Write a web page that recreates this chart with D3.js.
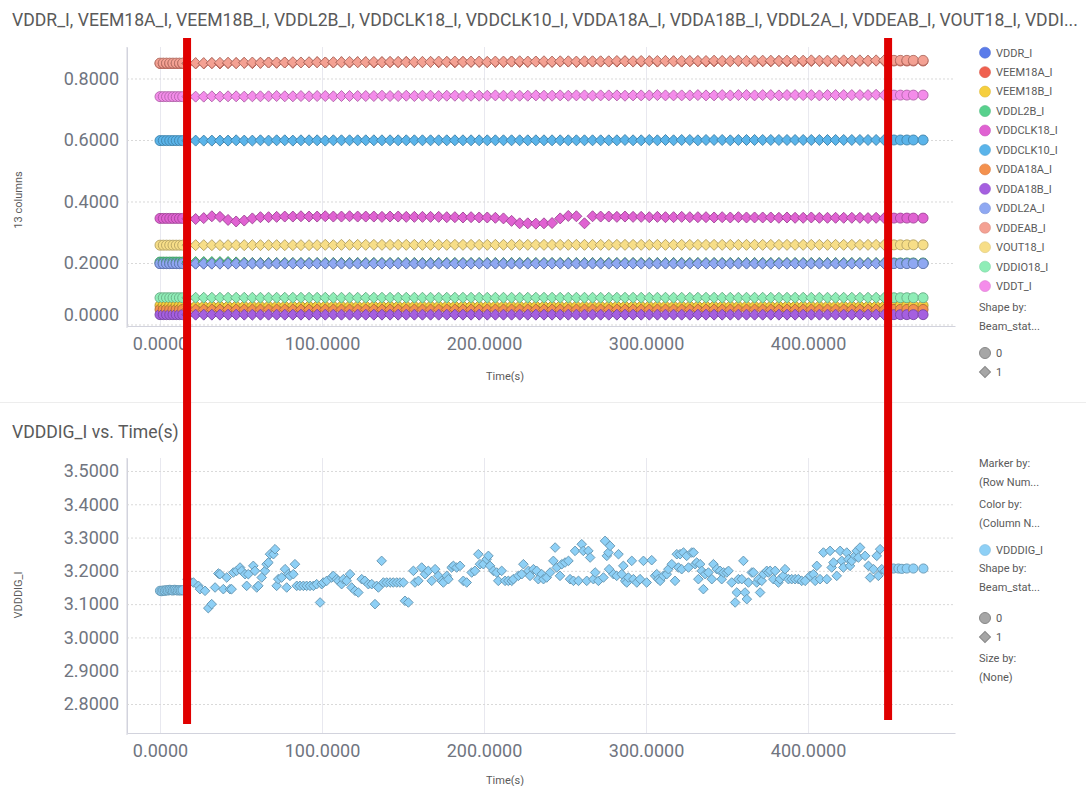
<!DOCTYPE html>
<html>
<head>
<meta charset="utf-8">
<script src="https://cdn.jsdelivr.net/npm/d3@7"></script>
<style>
  html, body { margin: 0; padding: 0; background: #fff; }
  svg { display: block; font-family: Roboto, "Noto Sans", sans-serif; }
</style>
</head>
<body>
<svg id="chart" width="1086" height="786"></svg>
<script>
// ---------------------------------------------------------------------------
// Data
// ---------------------------------------------------------------------------
const seriesNames = ["VDDR_I", "VEEM18A_I", "VEEM18B_I", "VDDL2B_I", "VDDCLK18_I", "VDDCLK10_I",
  "VDDA18A_I", "VDDA18B_I", "VDDL2A_I", "VDDEAB_I", "VOUT18_I", "VDDIO18_I", "VDDT_I"];
const seriesColors = ["#5a7bea", "#f0604f", "#f6cf3e", "#58d18d", "#e062d2", "#5ab4ea",
  "#f4914e", "#a55fe0", "#8fa8f2", "#f4a193", "#f7de88", "#8fedb7", "#f48cea"];

const timeTicks = [0, 100, 200, 300, 400];
const topYTicks = [0, 0.2, 0.4, 0.6, 0.8];
const bottomYTicks = [2.8, 2.9, 3.0, 3.1, 3.2, 3.3, 3.4, 3.5];

// Beam switched on / off (s); beam state 1 inside this window, 0 outside
const beamOnWindow = [16.7, 449.4];

// Sample times (s) for the 13 supply currents
const topTime = [
  0, 2, 4, 6, 8, 10, 12, 14, 17, 22,
  27, 32, 37, 42, 47, 52, 57, 62, 67, 72,
  77, 82, 87, 92, 97, 102, 107, 112, 117, 122,
  127, 132, 137, 142, 147, 152, 157, 162, 167, 172,
  177, 182, 187, 192, 197, 202, 207, 212, 217, 222,
  227, 232, 237, 242, 247, 252, 257, 262, 267, 272,
  277, 282, 287, 292, 297, 302, 307, 312, 317, 322,
  327, 332, 337, 342, 347, 352, 357, 362, 367, 372,
  377, 382, 387, 392, 397, 402, 407, 412, 417, 422,
  427, 432, 437, 442, 447, 453, 457, 461, 465, 471
];

const VDDR_I = [
  0.198, 0.198, 0.198, 0.198, 0.198, 0.198, 0.198, 0.198, 0.198, 0.198,
  0.198, 0.198, 0.198, 0.198, 0.199, 0.199, 0.199, 0.199, 0.199, 0.199,
  0.199, 0.199, 0.199, 0.199, 0.199, 0.199, 0.199, 0.199, 0.199, 0.199,
  0.199, 0.199, 0.199, 0.199, 0.199, 0.199, 0.199, 0.199, 0.199, 0.199,
  0.199, 0.199, 0.199, 0.199, 0.199, 0.199, 0.199, 0.199, 0.199, 0.199,
  0.199, 0.199, 0.199, 0.199, 0.199, 0.199, 0.199, 0.199, 0.199, 0.199,
  0.199, 0.199, 0.199, 0.199, 0.199, 0.199, 0.199, 0.199, 0.199, 0.199,
  0.199, 0.199, 0.199, 0.199, 0.199, 0.199, 0.199, 0.199, 0.199, 0.199,
  0.199, 0.199, 0.199, 0.199, 0.199, 0.199, 0.199, 0.199, 0.199, 0.199,
  0.199, 0.199, 0.199, 0.199, 0.199, 0.199, 0.199, 0.199, 0.199, 0.199
];
const VEEM18A_I = [
  0.849, 0.849, 0.849, 0.849, 0.849, 0.849, 0.849, 0.849, 0.849, 0.849,
  0.849, 0.850, 0.849, 0.850, 0.850, 0.851, 0.850, 0.851, 0.852, 0.851,
  0.852, 0.851, 0.852, 0.852, 0.853, 0.852, 0.852, 0.853, 0.852, 0.853,
  0.853, 0.852, 0.853, 0.853, 0.853, 0.854, 0.853, 0.853, 0.854, 0.853,
  0.854, 0.853, 0.854, 0.854, 0.854, 0.853, 0.854, 0.854, 0.855, 0.854,
  0.854, 0.855, 0.854, 0.854, 0.855, 0.855, 0.854, 0.855, 0.855, 0.855,
  0.855, 0.855, 0.856, 0.855, 0.855, 0.856, 0.855, 0.856, 0.856, 0.855,
  0.856, 0.856, 0.855, 0.856, 0.856, 0.856, 0.857, 0.856, 0.856, 0.856,
  0.856, 0.857, 0.856, 0.857, 0.856, 0.857, 0.857, 0.856, 0.857, 0.857,
  0.857, 0.857, 0.857, 0.858, 0.857, 0.857, 0.857, 0.857, 0.857, 0.857
];
const VEEM18B_I = [
  0.062, 0.062, 0.062, 0.062, 0.062, 0.062, 0.062, 0.062, 0.062, 0.062,
  0.062, 0.062, 0.062, 0.062, 0.062, 0.062, 0.062, 0.062, 0.062, 0.062,
  0.062, 0.062, 0.062, 0.062, 0.062, 0.062, 0.062, 0.062, 0.062, 0.062,
  0.062, 0.062, 0.062, 0.062, 0.062, 0.062, 0.062, 0.062, 0.062, 0.062,
  0.062, 0.062, 0.062, 0.062, 0.062, 0.062, 0.062, 0.062, 0.062, 0.062,
  0.062, 0.062, 0.062, 0.062, 0.062, 0.062, 0.062, 0.062, 0.062, 0.062,
  0.062, 0.062, 0.062, 0.062, 0.062, 0.062, 0.062, 0.062, 0.062, 0.062,
  0.062, 0.062, 0.062, 0.062, 0.062, 0.062, 0.062, 0.062, 0.062, 0.062,
  0.062, 0.062, 0.062, 0.062, 0.062, 0.062, 0.062, 0.062, 0.062, 0.062,
  0.062, 0.062, 0.062, 0.062, 0.062, 0.062, 0.062, 0.062, 0.062, 0.062
];
const VDDL2B_I = [
  0.203, 0.203, 0.203, 0.203, 0.203, 0.203, 0.203, 0.203, 0.203, 0.203,
  0.203, 0.203, 0.203, 0.203, 0.202, 0.201, 0.200, 0.200, 0.200, 0.200,
  0.200, 0.200, 0.200, 0.200, 0.200, 0.200, 0.200, 0.200, 0.200, 0.200,
  0.200, 0.200, 0.200, 0.200, 0.200, 0.200, 0.200, 0.200, 0.200, 0.200,
  0.200, 0.200, 0.200, 0.200, 0.200, 0.200, 0.200, 0.200, 0.200, 0.200,
  0.200, 0.200, 0.200, 0.200, 0.200, 0.200, 0.200, 0.200, 0.200, 0.200,
  0.200, 0.200, 0.200, 0.200, 0.200, 0.200, 0.200, 0.200, 0.200, 0.200,
  0.200, 0.200, 0.200, 0.200, 0.200, 0.200, 0.200, 0.200, 0.200, 0.200,
  0.200, 0.200, 0.200, 0.200, 0.200, 0.200, 0.200, 0.200, 0.200, 0.200,
  0.200, 0.200, 0.200, 0.200, 0.200, 0.200, 0.200, 0.200, 0.200, 0.200
];
const VDDCLK18_I = [
  0.345, 0.345, 0.345, 0.345, 0.345, 0.345, 0.345, 0.345, 0.344, 0.343,
  0.346, 0.352, 0.350, 0.340, 0.335, 0.338, 0.345, 0.349, 0.349, 0.350,
  0.351, 0.351, 0.352, 0.351, 0.351, 0.352, 0.351, 0.351, 0.352, 0.351,
  0.351, 0.351, 0.350, 0.351, 0.351, 0.350, 0.350, 0.350, 0.350, 0.350,
  0.349, 0.349, 0.348, 0.349, 0.348, 0.348, 0.347, 0.345, 0.337, 0.329,
  0.329, 0.328, 0.329, 0.330, 0.345, 0.353, 0.352, 0.329, 0.352, 0.351,
  0.351, 0.350, 0.351, 0.350, 0.350, 0.349, 0.350, 0.349, 0.349, 0.350,
  0.349, 0.349, 0.349, 0.348, 0.349, 0.348, 0.349, 0.348, 0.348, 0.348,
  0.348, 0.347, 0.348, 0.347, 0.347, 0.348, 0.347, 0.347, 0.347, 0.347,
  0.347, 0.347, 0.346, 0.347, 0.346, 0.346, 0.346, 0.346, 0.346, 0.346
];
const VDDCLK10_I = [
  0.598, 0.598, 0.598, 0.598, 0.598, 0.598, 0.598, 0.598, 0.598, 0.598,
  0.598, 0.598, 0.598, 0.598, 0.599, 0.598, 0.598, 0.599, 0.598, 0.599,
  0.599, 0.598, 0.599, 0.599, 0.599, 0.598, 0.599, 0.599, 0.599, 0.599,
  0.599, 0.599, 0.599, 0.599, 0.599, 0.599, 0.599, 0.599, 0.599, 0.599,
  0.599, 0.599, 0.599, 0.599, 0.599, 0.599, 0.599, 0.599, 0.599, 0.599,
  0.599, 0.599, 0.599, 0.599, 0.599, 0.599, 0.599, 0.599, 0.599, 0.599,
  0.599, 0.599, 0.600, 0.599, 0.599, 0.600, 0.599, 0.600, 0.599, 0.600,
  0.600, 0.599, 0.600, 0.600, 0.600, 0.599, 0.600, 0.600, 0.600, 0.600,
  0.600, 0.600, 0.600, 0.600, 0.600, 0.600, 0.600, 0.600, 0.600, 0.600,
  0.600, 0.600, 0.600, 0.600, 0.600, 0.600, 0.600, 0.600, 0.600, 0.600
];
const VDDA18A_I = [
  0.049, 0.049, 0.049, 0.049, 0.049, 0.049, 0.049, 0.049, 0.049, 0.049,
  0.049, 0.049, 0.049, 0.049, 0.049, 0.049, 0.049, 0.049, 0.049, 0.049,
  0.049, 0.049, 0.049, 0.049, 0.049, 0.049, 0.049, 0.049, 0.049, 0.049,
  0.049, 0.049, 0.049, 0.049, 0.049, 0.049, 0.049, 0.049, 0.049, 0.049,
  0.049, 0.049, 0.049, 0.049, 0.049, 0.049, 0.049, 0.049, 0.049, 0.049,
  0.049, 0.049, 0.049, 0.049, 0.049, 0.049, 0.049, 0.049, 0.049, 0.049,
  0.049, 0.049, 0.049, 0.049, 0.049, 0.049, 0.049, 0.049, 0.049, 0.049,
  0.049, 0.049, 0.049, 0.049, 0.049, 0.049, 0.049, 0.049, 0.049, 0.049,
  0.049, 0.049, 0.049, 0.049, 0.049, 0.049, 0.049, 0.049, 0.049, 0.049,
  0.049, 0.049, 0.049, 0.049, 0.049, 0.049, 0.049, 0.049, 0.049, 0.049
];
const VDDA18B_I = [
  0.032, 0.032, 0.032, 0.032, 0.032, 0.032, 0.032, 0.032, 0.032, 0.032,
  0.032, 0.032, 0.032, 0.032, 0.032, 0.032, 0.032, 0.032, 0.032, 0.032,
  0.032, 0.032, 0.032, 0.032, 0.032, 0.032, 0.032, 0.032, 0.032, 0.032,
  0.032, 0.032, 0.032, 0.032, 0.032, 0.032, 0.032, 0.032, 0.032, 0.032,
  0.032, 0.032, 0.032, 0.032, 0.032, 0.032, 0.032, 0.032, 0.032, 0.032,
  0.032, 0.032, 0.032, 0.032, 0.032, 0.032, 0.032, 0.032, 0.032, 0.032,
  0.032, 0.032, 0.032, 0.032, 0.032, 0.032, 0.032, 0.032, 0.032, 0.032,
  0.032, 0.032, 0.032, 0.032, 0.032, 0.032, 0.032, 0.032, 0.032, 0.032,
  0.032, 0.032, 0.032, 0.032, 0.032, 0.032, 0.032, 0.032, 0.032, 0.032,
  0.032, 0.032, 0.032, 0.032, 0.032, 0.032, 0.032, 0.032, 0.032, 0.032
];
const VDDL2A_I = [
  0.198, 0.198, 0.198, 0.198, 0.198, 0.198, 0.198, 0.198, 0.198, 0.198,
  0.198, 0.198, 0.198, 0.198, 0.198, 0.198, 0.198, 0.198, 0.198, 0.198,
  0.198, 0.198, 0.198, 0.198, 0.198, 0.198, 0.198, 0.198, 0.198, 0.198,
  0.198, 0.198, 0.198, 0.198, 0.198, 0.198, 0.198, 0.198, 0.198, 0.198,
  0.198, 0.198, 0.198, 0.198, 0.198, 0.198, 0.198, 0.198, 0.198, 0.198,
  0.198, 0.198, 0.198, 0.198, 0.198, 0.198, 0.198, 0.198, 0.198, 0.198,
  0.198, 0.198, 0.198, 0.198, 0.198, 0.198, 0.198, 0.198, 0.198, 0.198,
  0.198, 0.198, 0.198, 0.198, 0.198, 0.198, 0.198, 0.198, 0.198, 0.198,
  0.198, 0.198, 0.198, 0.198, 0.198, 0.198, 0.198, 0.198, 0.198, 0.198,
  0.198, 0.198, 0.198, 0.198, 0.198, 0.198, 0.198, 0.198, 0.198, 0.198
];
const VDDEAB_I = [
  0.850, 0.850, 0.850, 0.850, 0.850, 0.850, 0.850, 0.850, 0.850, 0.850,
  0.850, 0.850, 0.851, 0.851, 0.850, 0.851, 0.852, 0.851, 0.852, 0.852,
  0.852, 0.853, 0.852, 0.853, 0.853, 0.852, 0.853, 0.853, 0.854, 0.853,
  0.853, 0.854, 0.853, 0.854, 0.854, 0.853, 0.854, 0.854, 0.854, 0.855,
  0.854, 0.855, 0.854, 0.855, 0.855, 0.854, 0.855, 0.855, 0.855, 0.856,
  0.855, 0.855, 0.856, 0.855, 0.856, 0.856, 0.855, 0.856, 0.856, 0.856,
  0.856, 0.857, 0.856, 0.856, 0.857, 0.856, 0.857, 0.857, 0.856, 0.857,
  0.857, 0.857, 0.857, 0.858, 0.857, 0.857, 0.858, 0.857, 0.858, 0.858,
  0.858, 0.857, 0.858, 0.858, 0.858, 0.859, 0.858, 0.858, 0.858, 0.859,
  0.858, 0.859, 0.858, 0.859, 0.859, 0.859, 0.859, 0.859, 0.859, 0.859
];
const VOUT18_I = [
  0.258, 0.258, 0.258, 0.258, 0.258, 0.258, 0.258, 0.258, 0.258, 0.258,
  0.258, 0.258, 0.258, 0.258, 0.258, 0.258, 0.258, 0.258, 0.258, 0.258,
  0.258, 0.258, 0.258, 0.258, 0.258, 0.259, 0.258, 0.259, 0.259, 0.259,
  0.259, 0.259, 0.259, 0.259, 0.259, 0.259, 0.259, 0.259, 0.259, 0.259,
  0.259, 0.259, 0.259, 0.259, 0.259, 0.259, 0.259, 0.259, 0.259, 0.259,
  0.259, 0.259, 0.259, 0.259, 0.259, 0.259, 0.259, 0.259, 0.259, 0.259,
  0.259, 0.259, 0.259, 0.259, 0.259, 0.259, 0.259, 0.259, 0.259, 0.259,
  0.259, 0.259, 0.259, 0.259, 0.259, 0.259, 0.259, 0.259, 0.259, 0.259,
  0.259, 0.259, 0.259, 0.259, 0.259, 0.259, 0.259, 0.259, 0.259, 0.259,
  0.259, 0.259, 0.259, 0.259, 0.259, 0.259, 0.259, 0.259, 0.259, 0.259
];
const VDDIO18_I = [
  0.087, 0.087, 0.087, 0.087, 0.087, 0.087, 0.087, 0.087, 0.087, 0.087,
  0.087, 0.087, 0.087, 0.087, 0.087, 0.087, 0.087, 0.087, 0.087, 0.087,
  0.087, 0.087, 0.087, 0.087, 0.087, 0.087, 0.087, 0.087, 0.087, 0.087,
  0.087, 0.087, 0.087, 0.087, 0.087, 0.087, 0.087, 0.087, 0.087, 0.087,
  0.087, 0.087, 0.087, 0.087, 0.087, 0.087, 0.087, 0.087, 0.087, 0.087,
  0.087, 0.087, 0.087, 0.087, 0.087, 0.087, 0.087, 0.087, 0.087, 0.087,
  0.087, 0.087, 0.087, 0.087, 0.087, 0.087, 0.087, 0.087, 0.087, 0.087,
  0.087, 0.087, 0.087, 0.087, 0.087, 0.087, 0.087, 0.087, 0.087, 0.087,
  0.087, 0.087, 0.087, 0.087, 0.087, 0.087, 0.087, 0.087, 0.087, 0.087,
  0.087, 0.087, 0.087, 0.087, 0.087, 0.087, 0.087, 0.087, 0.087, 0.087
];
const VDDT_I = [
  0.741, 0.741, 0.741, 0.741, 0.741, 0.741, 0.741, 0.741, 0.741, 0.741,
  0.741, 0.742, 0.741, 0.742, 0.742, 0.741, 0.742, 0.742, 0.742, 0.743,
  0.742, 0.742, 0.743, 0.742, 0.743, 0.743, 0.742, 0.743, 0.743, 0.743,
  0.743, 0.743, 0.744, 0.743, 0.743, 0.744, 0.743, 0.744, 0.744, 0.743,
  0.744, 0.744, 0.743, 0.744, 0.744, 0.744, 0.745, 0.744, 0.744, 0.744,
  0.744, 0.745, 0.744, 0.744, 0.745, 0.744, 0.745, 0.745, 0.744, 0.745,
  0.745, 0.745, 0.744, 0.745, 0.745, 0.745, 0.746, 0.745, 0.745, 0.745,
  0.745, 0.746, 0.745, 0.745, 0.746, 0.745, 0.746, 0.746, 0.745, 0.746,
  0.746, 0.745, 0.746, 0.746, 0.746, 0.746, 0.745, 0.746, 0.746, 0.746,
  0.746, 0.746, 0.746, 0.747, 0.746, 0.746, 0.746, 0.746, 0.746, 0.746
];

const seriesValues = [VDDR_I, VEEM18A_I, VEEM18B_I, VDDL2B_I, VDDCLK18_I, VDDCLK10_I,
  VDDA18A_I, VDDA18B_I, VDDL2A_I, VDDEAB_I, VOUT18_I, VDDIO18_I, VDDT_I];

// VDDDIG_I readings: [time (s), current]
const vdddig = [
  [0, 3.140], [1, 3.139], [2, 3.141], [3, 3.140], [4, 3.142], [5, 3.141], [6, 3.143], [7, 3.142],
  [8, 3.141], [9, 3.143], [10, 3.142], [11, 3.141], [12, 3.142], [13, 3.141], [14, 3.142],
  [17.0, 3.175], [20.6, 3.165], [23.7, 3.155], [24.7, 3.145], [27.8, 3.140], [29.8, 3.088],
  [31.9, 3.100], [34.0, 3.150], [36.0, 3.192], [37.0, 3.190], [39.1, 3.145], [41.2, 3.180],
  [43.2, 3.145], [44.2, 3.145], [45.3, 3.195], [47.3, 3.200], [49.4, 3.210], [50.4, 3.200],
  [52.5, 3.190], [53.5, 3.155], [54.5, 3.190], [57.6, 3.215], [58.6, 3.200], [59.7, 3.150],
  [60.7, 3.155], [62.8, 3.180], [64.8, 3.200], [65.8, 3.220], [66.9, 3.225], [67.9, 3.250],
  [70.0, 3.250], [71.0, 3.265], [72.0, 3.155], [73.0, 3.175], [75.1, 3.180], [77.2, 3.205],
  [78.2, 3.150], [79.2, 3.190], [80.2, 3.185], [82.3, 3.190], [83.3, 3.220], [84.4, 3.155],
  [86.4, 3.155], [88.5, 3.155], [90.5, 3.155], [92.6, 3.155], [94.7, 3.155], [96.7, 3.160],
  [98.8, 3.105], [99.8, 3.160], [100.8, 3.165], [102.9, 3.170], [106.0, 3.180], [107.0, 3.185],
  [109.1, 3.175], [110.1, 3.170], [112.1, 3.160], [113.2, 3.175], [115.2, 3.170], [117.3, 3.190],
  [118.3, 3.150], [120.4, 3.140], [122.4, 3.135], [124.5, 3.175], [126.5, 3.170], [128.6, 3.160],
  [130.7, 3.160], [132.7, 3.100], [133.7, 3.155], [134.8, 3.150], [136.8, 3.230], [137.9, 3.165],
  [139.9, 3.165], [142.0, 3.165], [144.0, 3.165], [146.1, 3.165], [148.1, 3.165], [150.2, 3.165],
  [151.2, 3.110], [153.3, 3.105], [156.4, 3.200], [157.4, 3.165], [159.5, 3.170], [161.5, 3.210],
  [163.6, 3.190], [165.6, 3.200], [167.7, 3.170], [169.8, 3.205], [171.8, 3.185], [173.9, 3.170],
  [174.9, 3.165], [177.0, 3.185], [178.0, 3.175], [180.0, 3.210], [181.1, 3.215], [183.1, 3.210],
  [185.2, 3.215], [187.2, 3.170], [189.3, 3.165], [192.4, 3.195], [194.4, 3.200], [196.5, 3.250],
  [197.5, 3.220], [199.6, 3.220], [201.6, 3.235], [202.7, 3.245], [203.7, 3.215], [205.8, 3.200],
  [207.8, 3.195], [208.8, 3.170], [210.9, 3.200], [213.0, 3.170], [215.0, 3.170], [217.1, 3.170],
  [218.1, 3.175], [221.2, 3.185], [223.3, 3.190], [224.3, 3.220], [227.4, 3.200], [228.4, 3.185],
  [230.5, 3.205], [232.5, 3.200], [233.5, 3.175], [235.6, 3.190], [236.7, 3.175], [238.7, 3.180],
  [240.8, 3.195], [242.8, 3.230], [243.9, 3.270], [244.9, 3.210], [246.9, 3.185], [248.0, 3.220],
  [250.0, 3.225], [252.1, 3.230], [253.1, 3.175], [255.2, 3.170], [256.2, 3.260], [258.3, 3.170],
  [260.3, 3.280], [261.3, 3.260], [263.4, 3.170], [264.4, 3.260], [265.5, 3.240], [267.5, 3.175],
  [268.6, 3.195], [270.6, 3.170], [273.7, 3.180], [274.7, 3.290], [275.8, 3.245], [276.8, 3.255],
  [277.2, 3.205], [277.8, 3.275], [279.9, 3.190], [281.9, 3.185], [283.0, 3.250], [285.0, 3.190],
  [286.0, 3.215], [287.1, 3.170], [288.1, 3.165], [289.1, 3.180], [291.2, 3.230], [292.2, 3.175],
  [294.3, 3.165], [296.3, 3.175], [298.4, 3.230], [300.4, 3.165], [303.5, 3.232], [305.6, 3.185],
  [306.6, 3.190], [307.6, 3.175], [308.7, 3.170], [310.7, 3.185], [312.8, 3.190], [313.8, 3.205],
  [315.9, 3.220], [317.9, 3.170], [319.0, 3.250], [320.0, 3.210], [321.0, 3.250], [322.0, 3.205],
  [323.1, 3.255], [325.1, 3.245], [326.2, 3.210], [328.2, 3.255], [329.3, 3.255], [330.3, 3.220],
  [331.3, 3.225], [332.3, 3.175], [333.4, 3.220], [334.4, 3.200], [335.4, 3.145], [336.5, 3.190],
  [338.5, 3.195], [340.6, 3.175], [341.6, 3.220], [343.7, 3.205], [345.7, 3.200], [346.7, 3.175],
  [347.8, 3.195], [349.8, 3.195], [350.9, 3.200], [352.9, 3.165], [355.0, 3.105], [356.0, 3.135],
  [357.0, 3.175], [359.1, 3.175], [360.1, 3.230], [361.1, 3.135], [362.2, 3.115], [363.2, 3.165],
  [365.3, 3.195], [366.3, 3.195], [368.3, 3.165], [369.4, 3.175], [370.4, 3.135], [371.4, 3.170],
  [372.5, 3.190], [374.5, 3.200], [375.5, 3.195], [376.6, 3.200], [378.6, 3.175], [379.7, 3.200],
  [381.7, 3.165], [382.7, 3.175], [384.8, 3.185], [385.8, 3.205], [387.9, 3.175], [389.9, 3.175],
  [392.0, 3.175], [394.0, 3.175], [396.1, 3.170], [398.2, 3.170], [401.3, 3.185], [403.3, 3.190],
  [404.4, 3.170], [405.4, 3.215], [407.4, 3.175], [409.5, 3.255], [411.6, 3.175], [413.6, 3.260],
  [414.6, 3.210], [415.7, 3.225], [417.7, 3.185], [419.8, 3.260], [420.8, 3.230], [421.8, 3.210],
  [423.9, 3.255], [424.9, 3.235], [425.9, 3.215], [427.0, 3.230], [429.0, 3.245], [430.1, 3.260],
  [431.1, 3.240], [432.1, 3.270], [435.2, 3.245], [437.3, 3.215], [438.3, 3.180], [440.4, 3.205],
  [442.4, 3.245], [443.4, 3.185], [444.5, 3.265], [445.5, 3.205], [447.5, 3.200],
  [452.7, 3.207], [455.8, 3.207], [457.9, 3.206], [460.9, 3.207], [465.0, 3.207], [471.2, 3.207]
];
const vdddigColor = "#8ed0f6";

// ---------------------------------------------------------------------------
// Layout
// ---------------------------------------------------------------------------
const svg = d3.select("#chart");
const TOP = { left: 127, right: 955, top: 47, bottom: 326 };
const BOT = { left: 127, right: 955, top: 458, bottom: 733 };

const xTop = d3.scaleLinear().domain([-20.37, 490.7]).range([TOP.left, TOP.right]);
const yTop = d3.scaleLinear().domain([-0.0049, 0.9024]).range([TOP.bottom, TOP.top]);
const xBot = d3.scaleLinear().domain([-20.37, 490.7]).range([BOT.left, BOT.right]);
const yBot = d3.scaleLinear().domain([2.7129, 3.539]).range([BOT.bottom, BOT.top]);

const fmt = d3.format(".4f");
const tickColor = "#70757f";
const textColor = "#5a5a5a";

const isBeamOn = t => t >= beamOnWindow[0] && t <= beamOnWindow[1];

const circleR = 5, diamondH = 5.5;
const circlePath = d3.symbol(d3.symbolCircle, Math.PI * circleR * circleR)();
const diamondPath = d3.symbol(d3.symbolSquare, 2 * diamondH * diamondH)();
const circlePathS = d3.symbol(d3.symbolCircle, Math.PI * 4.6 * 4.6)();
const diamondPathS = d3.symbol(d3.symbolSquare, 2 * 4.8 * 4.8)();

function drawFrame(box, x, y, yTicks) {
  const g = svg.append("g");
  const gx = g.append("g")
    .attr("transform", `translate(0,${box.bottom})`)
    .call(d3.axisBottom(x).tickValues(timeTicks).tickFormat(fmt)
      .tickSize(-(box.bottom - box.top)).tickSizeOuter(0).tickPadding(11));
  gx.select(".domain").attr("stroke", "#d2d3dd");
  gx.selectAll(".tick line").attr("stroke", "#e8e8ef");
  gx.selectAll(".tick text").attr("fill", tickColor).attr("font-size", 18)
    .attr("font-family", "Roboto, sans-serif");

  const gy = g.append("g")
    .attr("transform", `translate(${box.left},0)`)
    .call(d3.axisLeft(y).tickValues(yTicks).tickFormat(fmt)
      .tickSize(-(box.right - box.left)).tickSizeOuter(0).tickPadding(8));
  gy.select(".domain").attr("stroke", "#d2d3dd");
  gy.selectAll(".tick line").attr("stroke", "#d9d9d9").attr("stroke-dasharray", "2,2");
  gy.selectAll(".tick text").attr("fill", tickColor).attr("font-size", 18)
    .attr("font-family", "Roboto, sans-serif")
    // keep the lowest label inside the plot band
    .attr("y", d => Math.min(0, box.bottom - 11 - y(d)));
  // left axis line reaches just below the bottom axis
  g.append("line").attr("x1", box.left).attr("x2", box.left)
    .attr("y1", box.top).attr("y2", box.bottom + 2).attr("stroke", "#d2d3dd");
}

// ---------------------------------------------------------------------------
// Titles
// ---------------------------------------------------------------------------
svg.append("text").attr("x", 12).attr("y", 26)
  .attr("font-size", 17.6).attr("fill", textColor)
  .text(seriesNames.slice(0, 11).join(", ") + ", VDDI...");

svg.append("line").attr("x1", 0).attr("x2", 1086).attr("y1", 402.5).attr("y2", 402.5)
  .attr("stroke", "#ededed");

svg.append("text").attr("x", 12).attr("y", 438)
  .attr("font-size", 17.6).attr("fill", textColor)
  .text("VDDDIG_I vs. Time(s)");

// ---------------------------------------------------------------------------
// Top chart: 13 supply currents
// ---------------------------------------------------------------------------
drawFrame(TOP, xTop, yTop, topYTicks);

svg.append("text").attr("x", 505).attr("y", 380).attr("text-anchor", "middle")
  .attr("font-size", 11).attr("fill", textColor).text("Time(s)");
svg.append("text").attr("transform", "translate(22,200) rotate(-90)")
  .attr("text-anchor", "middle").attr("font-size", 11).attr("fill", textColor)
  .text("13 columns");

const topPoints = [];
topTime.forEach((t, i) => {
  seriesValues.forEach((vals, s) => {
    topPoints.push({ t, v: vals[i], s });
  });
});

svg.append("g").selectAll("path")
  .data(topPoints)
  .join("path")
  .attr("d", d => isBeamOn(d.t) ? diamondPath : circlePath)
  .attr("transform", d => `translate(${xTop(d.t)},${yTop(d.v)})` + (isBeamOn(d.t) ? " rotate(45)" : ""))
  .attr("fill", d => seriesColors[d.s])
  .attr("stroke", d => d3.color(seriesColors[d.s]).darker(0.9))
  .attr("stroke-width", 0.9);

// top legend
const legTop = svg.append("g").attr("font-size", 11).attr("fill", textColor);
seriesNames.forEach((name, i) => {
  const cy = 52.7 + i * 19.45;
  legTop.append("circle").attr("cx", 985).attr("cy", cy).attr("r", 5.5)
    .attr("fill", seriesColors[i]).attr("stroke", d3.color(seriesColors[i]).darker(0.3)).attr("stroke-width", 0.6);
  legTop.append("text").attr("x", 996).attr("y", cy).attr("dy", "0.35em").text(name);
});
legTop.append("text").attr("x", 979).attr("y", 307).attr("dy", "0.35em").text("Shape by:");
legTop.append("text").attr("x", 979).attr("y", 326).attr("dy", "0.35em").text("Beam_stat...");
legTop.append("circle").attr("cx", 985).attr("cy", 353).attr("r", 5.5).attr("fill", "#a6a6a6").attr("stroke", "#888");
legTop.append("text").attr("x", 996).attr("y", 353).attr("dy", "0.35em").text("0");
legTop.append("path").attr("d", d3.symbol(d3.symbolSquare, 2 * 5.5 * 5.5)())
  .attr("transform", "translate(985,372) rotate(45)").attr("fill", "#a6a6a6").attr("stroke", "#888");
legTop.append("text").attr("x", 996).attr("y", 372).attr("dy", "0.35em").text("1");

// ---------------------------------------------------------------------------
// Bottom chart: VDDDIG_I
// ---------------------------------------------------------------------------
drawFrame(BOT, xBot, yBot, bottomYTicks);

svg.append("text").attr("x", 505).attr("y", 784).attr("text-anchor", "middle")
  .attr("font-size", 11).attr("fill", textColor).text("Time(s)");
svg.append("text").attr("transform", "translate(22,595) rotate(-90)")
  .attr("text-anchor", "middle").attr("font-size", 11).attr("fill", textColor)
  .text("VDDDIG_I");

svg.append("g").selectAll("path")
  .data(vdddig)
  .join("path")
  .attr("d", d => isBeamOn(d[0]) ? diamondPathS : circlePathS)
  .attr("transform", d => `translate(${xBot(d[0])},${yBot(d[1])})` + (isBeamOn(d[0]) ? " rotate(45)" : ""))
  .attr("fill", vdddigColor)
  .attr("stroke", d3.color(vdddigColor).darker(0.9))
  .attr("stroke-width", 0.9);

const legBot = svg.append("g").attr("font-size", 11).attr("fill", textColor);
[["Marker by:", 463], ["(Row Num...", 482], ["Color by:", 504], ["(Column N...", 523],
 ["Shape by:", 568], ["Beam_stat...", 587], ["Size by:", 658], ["(None)", 677]]
  .forEach(([txt, yy]) => legBot.append("text").attr("x", 979).attr("y", yy).attr("dy", "0.35em").text(txt));
legBot.append("circle").attr("cx", 985).attr("cy", 550).attr("r", 5.5)
  .attr("fill", vdddigColor).attr("stroke", d3.color(vdddigColor).darker(0.3)).attr("stroke-width", 0.6);
legBot.append("text").attr("x", 996).attr("y", 550).attr("dy", "0.35em").text("VDDDIG_I");
legBot.append("circle").attr("cx", 985).attr("cy", 618).attr("r", 5.5).attr("fill", "#a6a6a6").attr("stroke", "#888");
legBot.append("text").attr("x", 996).attr("y", 618).attr("dy", "0.35em").text("0");
legBot.append("path").attr("d", d3.symbol(d3.symbolSquare, 2 * 5.5 * 5.5)())
  .attr("transform", "translate(985,637) rotate(45)").attr("fill", "#a6a6a6").attr("stroke", "#888");
legBot.append("text").attr("x", 996).attr("y", 637).attr("dy", "0.35em").text("1");

// ---------------------------------------------------------------------------
// Beam on / off markers spanning both charts
// ---------------------------------------------------------------------------
svg.append("g").selectAll("rect")
  .data(beamOnWindow)
  .join("rect")
  .attr("x", d => xTop(d) - 4)
  .attr("y", 38)
  .attr("width", 8)
  .attr("height", (d, i) => i === 0 ? 686 : 682)
  .attr("fill", "#e00000");
</script>
</body>
</html>
